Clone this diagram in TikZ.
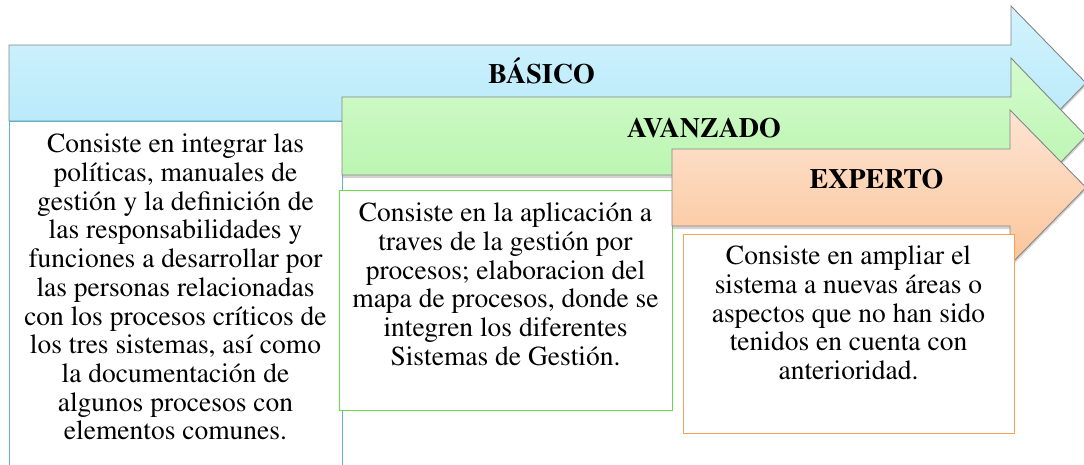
\documentclass[tikz,border=0pt]{standalone}
\usepackage[T1]{fontenc}
\usepackage{times}
\usetikzlibrary{shadows}
\definecolor{bluetop}{HTML}{D2F3FD}
\definecolor{bluebot}{HTML}{B2E7FA}
\definecolor{greentop}{HTML}{D4FBCD}
\definecolor{greenbot}{HTML}{B3F4A8}
\definecolor{orangetop}{HTML}{FDE4D3}
\definecolor{orangebot}{HTML}{FBC59A}
\definecolor{blueline}{HTML}{5BB5D0}
\definecolor{greenline}{HTML}{66DD4A}
\definecolor{orangeline}{HTML}{F7A056}
\definecolor{arrowline}{HTML}{858585}
\tikzset{
    stage/.style={draw=arrowline, line width=0.9pt, line join=miter,
        drop shadow={shadow xshift=0pt, shadow yshift=-3pt, opacity=0.35}},
    stagelabel/.style={font=\fontsize{28}{30}\selectfont\bfseries, inner sep=0pt, anchor=base},
    descbox/.style={fill=white, line width=1.1pt, anchor=north west, inner sep=0pt},
    desctext/.style={font=\fontsize{27.5}{28.7}\selectfont, align=center, inner sep=0pt, anchor=north}
}

\begin{document}
\begin{tikzpicture}[x=1pt, y=-1pt]
        \useasboundingbox (0,0) rectangle (1084,464);
        % basico
        \path[stage, top color=bluetop, bottom color=bluebot]
                (9,45) -- (1011,45) -- (1011,6) -- (1086,83) -- (1011,160) -- (1011,121) -- (9,121) -- cycle;
        \node (basico) [stagelabel] at (541.5,83) {BÁSICO};
        \node (basicobox) [descbox, draw=blueline, minimum width=333pt, minimum height=349pt] at (9,121) {};
        \node (basicotxt) [desctext] at (175.5,134) {Consiste en integrar las\\políticas, manuales de\\gestión y la definición de\\las responsabilidades y\\funciones a desarrollar por\\las personas relacionadas\\con los procesos críticos de\\los tres sistemas, así como\\la documentación de\\algunos procesos con\\elementos comunes.};
        % avanzado
        \path[stage, top color=greentop, bottom color=greenbot]
                (342,97) -- (1011,97) -- (1011,58) -- (1086,136) -- (1011,214) -- (1011,175) -- (342,175) -- cycle;
        \node (avanzado) [stagelabel] at (704,137) {AVANZADO};
        \node (avanzadobox) [descbox, draw=greenline, minimum width=333pt, minimum height=220pt] at (339,190) {};
        \node (avanzadotxt) [desctext] at (505.5,203) {Consiste en la aplicación a\\traves de la gestión por\\procesos; elaboracion del\\mapa de procesos, donde se\\integren los diferentes\\Sistemas de Gestión.};
        % experto
        \path[stage, top color=orangetop, bottom color=orangebot]
                (672,149) -- (1010,149) -- (1010,110) -- (1086,187.5) -- (1010,265) -- (1010,226) -- (672,226) -- cycle;
        \node (experto) [stagelabel] at (876.5,188) {EXPERTO};
        \node (expertobox) [descbox, draw=orangeline, minimum width=331pt, minimum height=199pt] at (683,234) {};
        \node (expertotxt) [desctext] at (848.5,246) {Consiste en ampliar el\\sistema a nuevas áreas o\\aspectos que no han sido\\tenidos en cuenta con\\anterioridad.};
\end{tikzpicture}
\end{document}
